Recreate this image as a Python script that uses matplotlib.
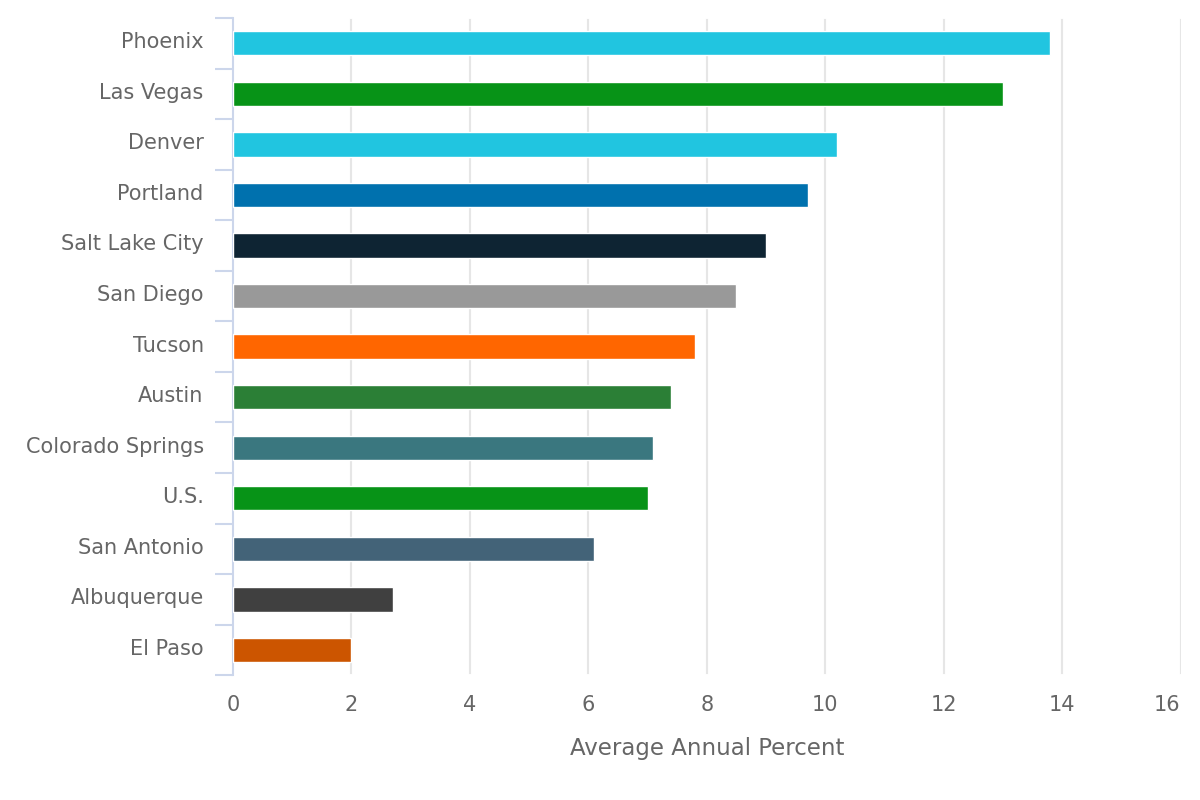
import numpy as np
import matplotlib
matplotlib.use("Agg")
import matplotlib.pyplot as plt
from matplotlib.ticker import FixedLocator
import matplotlib.transforms as mtransforms

cities = ["Phoenix", "Las Vegas", "Denver", "Portland", "Salt Lake City",
          "San Diego", "Tucson", "Austin", "Colorado Springs", "U.S.",
          "San Antonio", "Albuquerque", "El Paso"]
values = [13.8, 13.0, 10.2, 9.7, 9.0, 8.5, 7.8, 7.4, 7.1, 7.0, 6.1, 2.7, 2.0]
colors = ["#21c5e0", "#079317", "#21c5e0", "#0071ae", "#0e2433",
          "#999999", "#ff6600", "#2b7f36", "#3a777f", "#079317",
          "#436378", "#404040", "#cc5500"]
xticks = [0, 2, 4, 6, 8, 10, 12, 14, 16]

txt = "#666666"
plt.rcParams['font.family'] = ['DejaVu Sans']

fig = plt.figure(figsize=(12, 8), dpi=100)
ax = fig.add_axes([0.194, 0.156, 0.790, 0.8215])

pos = np.arange(len(cities))
ax.barh(pos, values, height=0.48, color=colors, edgecolor="white",
        linewidth=1, zorder=3)

ax.set_xlim(0, 16)
ax.set_ylim(len(cities) - 0.5, -0.5)

ax.set_xticks(xticks)
ax.set_xticklabels([str(t) for t in xticks])
for t in xticks[1:]:
    ax.axvline(t, ymin=0.003, ymax=0.997, color="#e6e6e6", lw=1.5, zorder=1)

ax.set_yticks(pos)
ax.set_yticklabels(cities)
ax.yaxis.set_minor_locator(FixedLocator(np.arange(-0.5, len(cities), 1.0)))

for s in ["top", "right", "bottom"]:
    ax.spines[s].set_visible(False)
ax.spines["left"].set_color("#ccd6eb")
ax.spines["left"].set_linewidth(1.5)

ax.tick_params(axis="y", which="major", length=0, pad=21, labelsize=15, labelcolor=txt)
ax.tick_params(axis="y", which="minor", length=13, width=1.5, color="#ccd6eb")
ax.tick_params(axis="x", length=0, pad=14, labelsize=15, labelcolor=txt)

# nudge y labels up a little, keep last x label inside the figure
shift = mtransforms.ScaledTranslation(0, 3 / 100, fig.dpi_scale_trans)
for lab in ax.get_yticklabels():
    lab.set_transform(lab.get_transform() + shift)
ax.get_xticklabels()[-1].set_horizontalalignment("right")

ax.set_xlabel("Average Annual Percent", fontsize=16.5, color=txt, labelpad=16)

fig.savefig("out.png", dpi=100)
plt.close()
